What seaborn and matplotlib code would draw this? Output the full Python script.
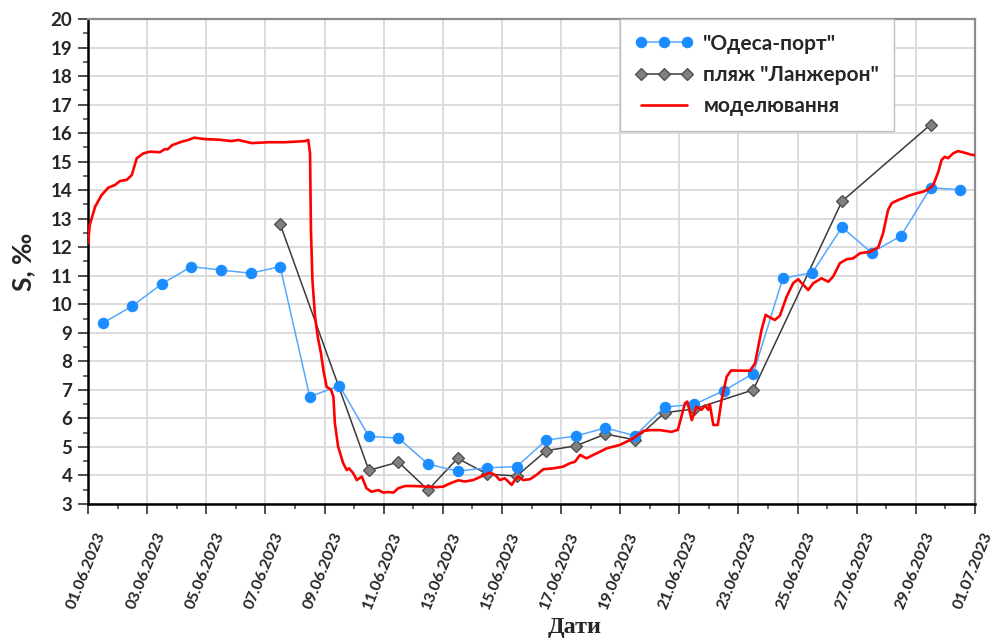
import numpy as np
import pandas as pd
import matplotlib
matplotlib.use("Agg")
import matplotlib.pyplot as plt
import matplotlib.dates as mdates
import matplotlib.transforms as mtransforms
from matplotlib.ticker import MultipleLocator
import seaborn as sns

# ---- observations: salinity at noon of each day (days counted from 01.06.2023) ----
port_days = [0.5, 1.5, 2.5, 3.5, 4.5, 5.5, 6.5, 7.5, 8.5, 9.5, 10.5, 11.5, 12.5, 13.5, 14.5,
             15.5, 16.5, 17.5, 18.5, 19.5, 20.5, 21.5, 22.5, 23.5, 24.5, 25.5, 26.5, 27.5, 28.5, 29.5]
port_vals = [9.34, 9.94, 10.72, 11.32, 11.20, 11.09, 11.32, 6.76, 7.15, 5.37, 5.31, 4.40, 4.15, 4.27, 4.31,
             5.24, 5.38, 5.67, 5.39, 6.40, 6.49, 6.97, 7.57, 10.91, 11.11, 12.70, 11.81, 12.40, 14.09, 14.01]

beach_days = [6.5, 9.5, 10.5, 11.5, 12.5, 13.5, 14.5, 15.5, 16.5, 17.5, 18.5, 19.5, 20.5, 22.5, 25.5, 28.5]
beach_vals = [12.81, 4.18, 4.47, 3.49, 4.60, 4.05, 3.98, 4.87, 5.04, 5.45, 5.25, 6.20, 6.33, 7.00, 13.61, 16.30]

# ---- model output ----
model_days = [0.00, 0.06, 0.24, 0.46, 0.69, 0.91, 1.08, 1.31, 1.48, 1.65, 1.87, 2.10, 2.43, 2.60, 2.69,
              2.85, 3.17, 3.39, 3.59, 3.96, 4.41, 4.86, 5.08, 5.54, 6.10, 6.66, 7.34, 7.45, 7.51, 7.54,
              7.59, 7.68, 7.77, 7.88, 7.96, 8.07, 8.22, 8.30, 8.35, 8.46, 8.63, 8.75, 8.83, 8.97, 9.09,
              9.26, 9.42, 9.59, 9.82, 9.99, 10.15, 10.33, 10.49, 10.72, 11.00, 11.45, 11.79, 12.02, 12.24,
              12.52, 12.75, 13.03, 13.31, 13.59, 13.76, 13.93, 14.10, 14.33, 14.44, 14.55, 14.72, 14.95,
              15.17, 15.40, 15.74, 16.07, 16.30, 16.47, 16.64, 16.86, 17.09, 17.31, 17.54, 17.99, 18.44,
              18.78, 19.00, 19.34, 19.74, 19.95, 20.19, 20.27, 20.42, 20.58, 20.75, 20.87, 20.98, 21.03,
              21.15, 21.30, 21.43, 21.60, 21.75, 22.39, 22.56, 22.78, 22.92, 23.01, 23.23, 23.40, 23.63,
              23.85, 24.02, 24.14, 24.36, 24.53, 24.81, 25.04, 25.20, 25.43, 25.66, 25.88, 26.11, 26.45,
              26.73, 26.89, 27.06, 27.18, 27.29, 27.46, 27.57, 27.74, 28.02, 28.25, 28.42, 28.59, 28.76,
              28.87, 28.98, 29.09, 29.26, 29.43, 29.66, 29.88, 30.00]
model_vals = [12.14, 12.78, 13.42, 13.83, 14.09, 14.18, 14.32, 14.36, 14.53, 15.12, 15.29, 15.35, 15.33, 15.44, 15.43,
              15.58, 15.70, 15.76, 15.84, 15.79, 15.77, 15.72, 15.76, 15.65, 15.68, 15.68, 15.72, 15.76, 15.29, 12.60,
              10.85, 9.57, 8.86, 8.28, 7.70, 7.11, 7.00, 6.76, 5.83, 5.01, 4.43, 4.19, 4.25, 4.08, 3.84,
              3.96, 3.55, 3.43, 3.49, 3.40, 3.42, 3.40, 3.55, 3.63, 3.63, 3.61, 3.59, 3.61, 3.72,
              3.83, 3.79, 3.84, 3.97, 4.10, 4.02, 3.84, 3.90, 3.67, 3.84, 3.96, 3.84, 3.87,
              4.02, 4.22, 4.25, 4.31, 4.43, 4.48, 4.72, 4.60, 4.72, 4.83, 4.95, 5.07, 5.30,
              5.56, 5.59, 5.59, 5.53, 5.60, 6.53, 6.59, 5.94, 6.41, 6.30, 6.45, 6.30, 6.50,
              5.77, 5.77, 6.65, 7.46, 7.68, 7.67, 7.93, 9.10, 9.63, 9.57, 9.45, 9.60, 10.27,
              10.74, 10.88, 10.74, 10.50, 10.74, 10.91, 10.79, 10.97, 11.44, 11.58, 11.61, 11.79, 11.84,
              12.00, 12.49, 13.31, 13.54, 13.60, 13.68, 13.72, 13.80, 13.89, 13.95, 14.03, 14.18, 14.65,
              15.06, 15.17, 15.12, 15.29, 15.37, 15.31, 15.24, 15.23]

series_names = ['"Одеса-порт"', 'пляж "Ланжерон"', 'моделювання']

start = pd.Timestamp("2023-06-01")
end = pd.Timestamp("2023-07-01")


def to_dates(days):
    return start + pd.to_timedelta(np.asarray(days), unit="D")


port = pd.DataFrame({"date": to_dates(port_days), "S": port_vals})
beach = pd.DataFrame({"date": to_dates(beach_days), "S": beach_vals})
model = pd.DataFrame({"date": to_dates(model_days), "S": model_vals})

sns.set_theme(style="white")
plt.rcParams["font.family"] = ["Lato", "DejaVu Sans"]

fig = plt.figure(figsize=(9.97, 6.39), dpi=100)
ax = fig.add_axes([88 / 997, 1 - 504 / 639, (975 - 88) / 997, (504 - 19) / 639])

sns.lineplot(data=port, x="date", y="S", ax=ax, color="#55a8ff", linewidth=1.1,
             marker="o", markersize=7.5, markerfacecolor="#1a8cff", markeredgecolor="#1a8cff",
             label=series_names[0], zorder=4)
sns.lineplot(data=beach, x="date", y="S", ax=ax, color="#3a3a3a", linewidth=1.1,
             marker="D", markersize=6.5, markerfacecolor="#808080", markeredgecolor="#4a4a4a",
             markeredgewidth=0.9, label=series_names[1], zorder=3)
sns.lineplot(data=model, x="date", y="S", ax=ax, color="#ff0000", linewidth=1.9,
             label=series_names[2], zorder=5)

ax.set_xlim(start, end)
ax.set_ylim(3, 20)

# odd days of the month: 01.06, 03.06, ..., 29.06, 01.07
ax.xaxis.set_major_locator(mdates.DayLocator(bymonthday=range(1, 32, 2)))
ax.xaxis.set_minor_locator(mdates.DayLocator())
ax.xaxis.set_major_formatter(mdates.DateFormatter("%d.%m.%Y"))
ax.yaxis.set_major_locator(MultipleLocator(1))
ax.yaxis.set_minor_locator(MultipleLocator(0.5))

ax.grid(True, which="major", color="#d9d9d9", linewidth=1.3)
ax.set_axisbelow(True)

ax.tick_params(axis="both", which="major", direction="out", length=7.2, width=1.3,
               color="#404040")
ax.tick_params(axis="both", which="minor", direction="out", length=3.6, width=1.1, color="#404040")
ax.tick_params(axis="y", which="major", labelsize=13.5, pad=4)
ax.tick_params(axis="x", which="major", labelsize=11.5, pad=13.5)
ax.tick_params(axis="x", which="both", bottom=True)
ax.tick_params(axis="y", which="both", left=True)

fig.canvas.draw()
shift = mtransforms.ScaledTranslation(14 / 100, 0, fig.dpi_scale_trans)
for lbl in ax.get_yticklabels():
    lbl.set_fontweight("bold")
for lbl in ax.get_xticklabels():
    lbl.set_fontweight("bold")
    lbl.set_rotation(68)
    lbl.set_rotation_mode("anchor")
    lbl.set_ha("right")
    lbl.set_va("center")
    lbl.set_transform(lbl.get_transform() + shift)

for side in ("left", "bottom"):
    ax.spines[side].set_color("black")
    ax.spines[side].set_linewidth(1.8)
for side in ("top", "right"):
    ax.spines[side].set_color("#8c8c8c")
    ax.spines[side].set_linewidth(1.6)

ax.set_xlabel("")
ax.set_ylabel("S, ‰", fontsize=19, fontweight="bold", labelpad=11)
fig.text(575 / 997, 6 / 639, "Дати", fontsize=17.5, fontweight="bold",
         family=["Liberation Serif", "DejaVu Serif"], ha="center", va="baseline")

leg = ax.legend(loc="upper left", bbox_to_anchor=(620 / 997, 1 - 19 / 639),
                bbox_transform=fig.transFigure, borderaxespad=0, numpoints=3,
                handlelength=2.8, handletextpad=0.5, labelspacing=0.55,
                borderpad=0.7, fancybox=False, frameon=True,
                prop={"size": 15, "weight": "bold"})
leg.get_frame().set_edgecolor("#bfbfbf")
leg.get_frame().set_linewidth(1.0)
leg.get_frame().set_alpha(1)
leg.set_zorder(10)

fig.savefig("out.png", dpi=100)
